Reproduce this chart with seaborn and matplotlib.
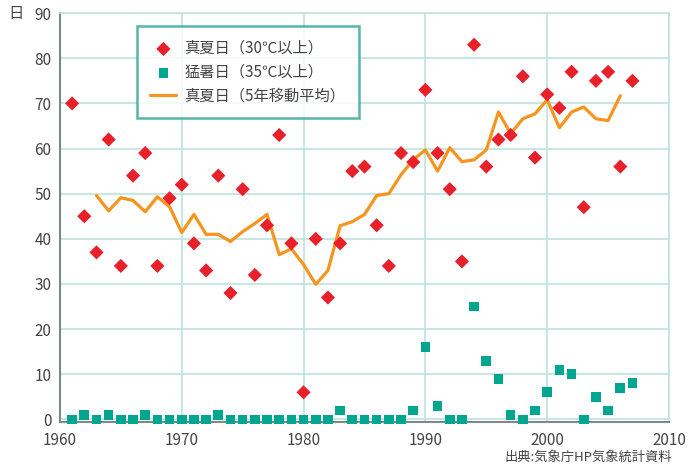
import pandas as pd
import numpy as np
import matplotlib.pyplot as plt
import seaborn as sns

sns.set_style("white")
plt.rcParams['font.family'] = ['Noto Sans CJK JP', 'DejaVu Sans']

years = list(range(1961, 2008))
manatsubi = [70, 45, 37, 62, 34, 54, 59, 34, 49, 52,
             39, 33, 54, 28, 51, 32, 43, 63, 39, 6,
             40, 27, 39, 55, 56, 43, 34, 59, 57, 73,
             59, 51, 35, 83, 56, 62, 63, 76, 58, 72,
             69, 77, 47, 75, 77, 56, 75]
moshobi = [0, 1, 0, 1, 0, 0, 1, 0, 0, 0,
           0, 0, 1, 0, 0, 0, 0, 0, 0, 0,
           0, 0, 2, 0, 0, 0, 0, 0, 2, 16,
           3, 0, 0, 25, 13, 9, 1, 0, 2, 6,
           11, 10, 0, 5, 2, 7, 8]
ma_years = list(range(1963, 2007))
ma5 = [49.6, 46.2, 49.1, 48.5, 46.0, 49.3, 47.1, 41.4, 45.4, 41.0,
       41.0, 39.4, 41.6, 43.4, 45.4, 36.5, 37.8, 34.3, 29.9, 33.0,
       42.9, 43.8, 45.4, 49.6, 50.0, 54.2, 57.5, 59.7, 55.0, 60.2,
       57.1, 57.5, 59.7, 68.1, 63.3, 66.6, 67.7, 70.8, 64.6, 68.1,
       69.2, 66.6, 66.2, 71.7]

df = pd.DataFrame({"year": years, "manatsubi": manatsubi, "moshobi": moshobi})
df_ma = pd.DataFrame({"year": ma_years, "ma5": ma5})

red = "#e8202a"
teal = "#00a68f"
orange = "#f7941d"
grid_c = "#bfe3dd"
text_c = "#444444"

fig, ax = plt.subplots(figsize=(6.89, 4.69), dpi=100)
fig.subplots_adjust(left=0.087, right=0.971, top=0.972, bottom=0.1)

sns.scatterplot(data=df, x="year", y="manatsubi", marker="D", s=52, color=red,
                edgecolor="none", ax=ax, label="真夏日（30℃以上）", zorder=4, clip_on=False)
sns.scatterplot(data=df, x="year", y="moshobi", marker="s", s=48, color=teal,
                edgecolor="none", ax=ax, label="猛暑日（35℃以上）", zorder=4, clip_on=False)
sns.lineplot(data=df_ma, x="year", y="ma5", color=orange, linewidth=2.3,
             ax=ax, label="真夏日（5年移動平均）", zorder=3)

ax.set_xlim(1960, 2010)
ax.set_ylim(-0.6, 90)
ax.set_xticks(range(1960, 2011, 10))
ax.set_yticks(range(0, 91, 10))
ax.grid(True, color=grid_c, linewidth=1.2)
ax.set_axisbelow(True)
ax.tick_params(axis="both", length=0, labelsize=11, colors=text_c)
ax.tick_params(axis="x", pad=7)
ax.tick_params(axis="y", pad=6)
ax.set_xlabel("")
ax.set_ylabel("")
for s in ["top", "right"]:
    ax.spines[s].set_color(grid_c)
    ax.spines[s].set_linewidth(1.2)
for s in ["left", "bottom"]:
    ax.spines[s].set_color("#7f8a88")
    ax.spines[s].set_linewidth(1.5)

ax.text(-0.072, 1.0, "日", transform=ax.transAxes, fontsize=11, color=text_c,
        ha="center", va="center")
fig.text(0.975, 0.012, "出典:気象庁HP気象統計資料", fontsize=9.5, color=text_c,
         ha="right", va="bottom")

leg = ax.legend(loc="upper left", bbox_to_anchor=(0.126, 0.968), borderaxespad=0,
                fontsize=11, frameon=True, fancybox=False, borderpad=0.9,
                handlelength=1.7, labelspacing=0.45, handletextpad=0.5)
leg.get_frame().set_edgecolor("#2aa593")
leg.get_frame().set_linewidth(1.8)
for t in leg.get_texts():
    t.set_color(text_c)

plt.savefig("out.png")
